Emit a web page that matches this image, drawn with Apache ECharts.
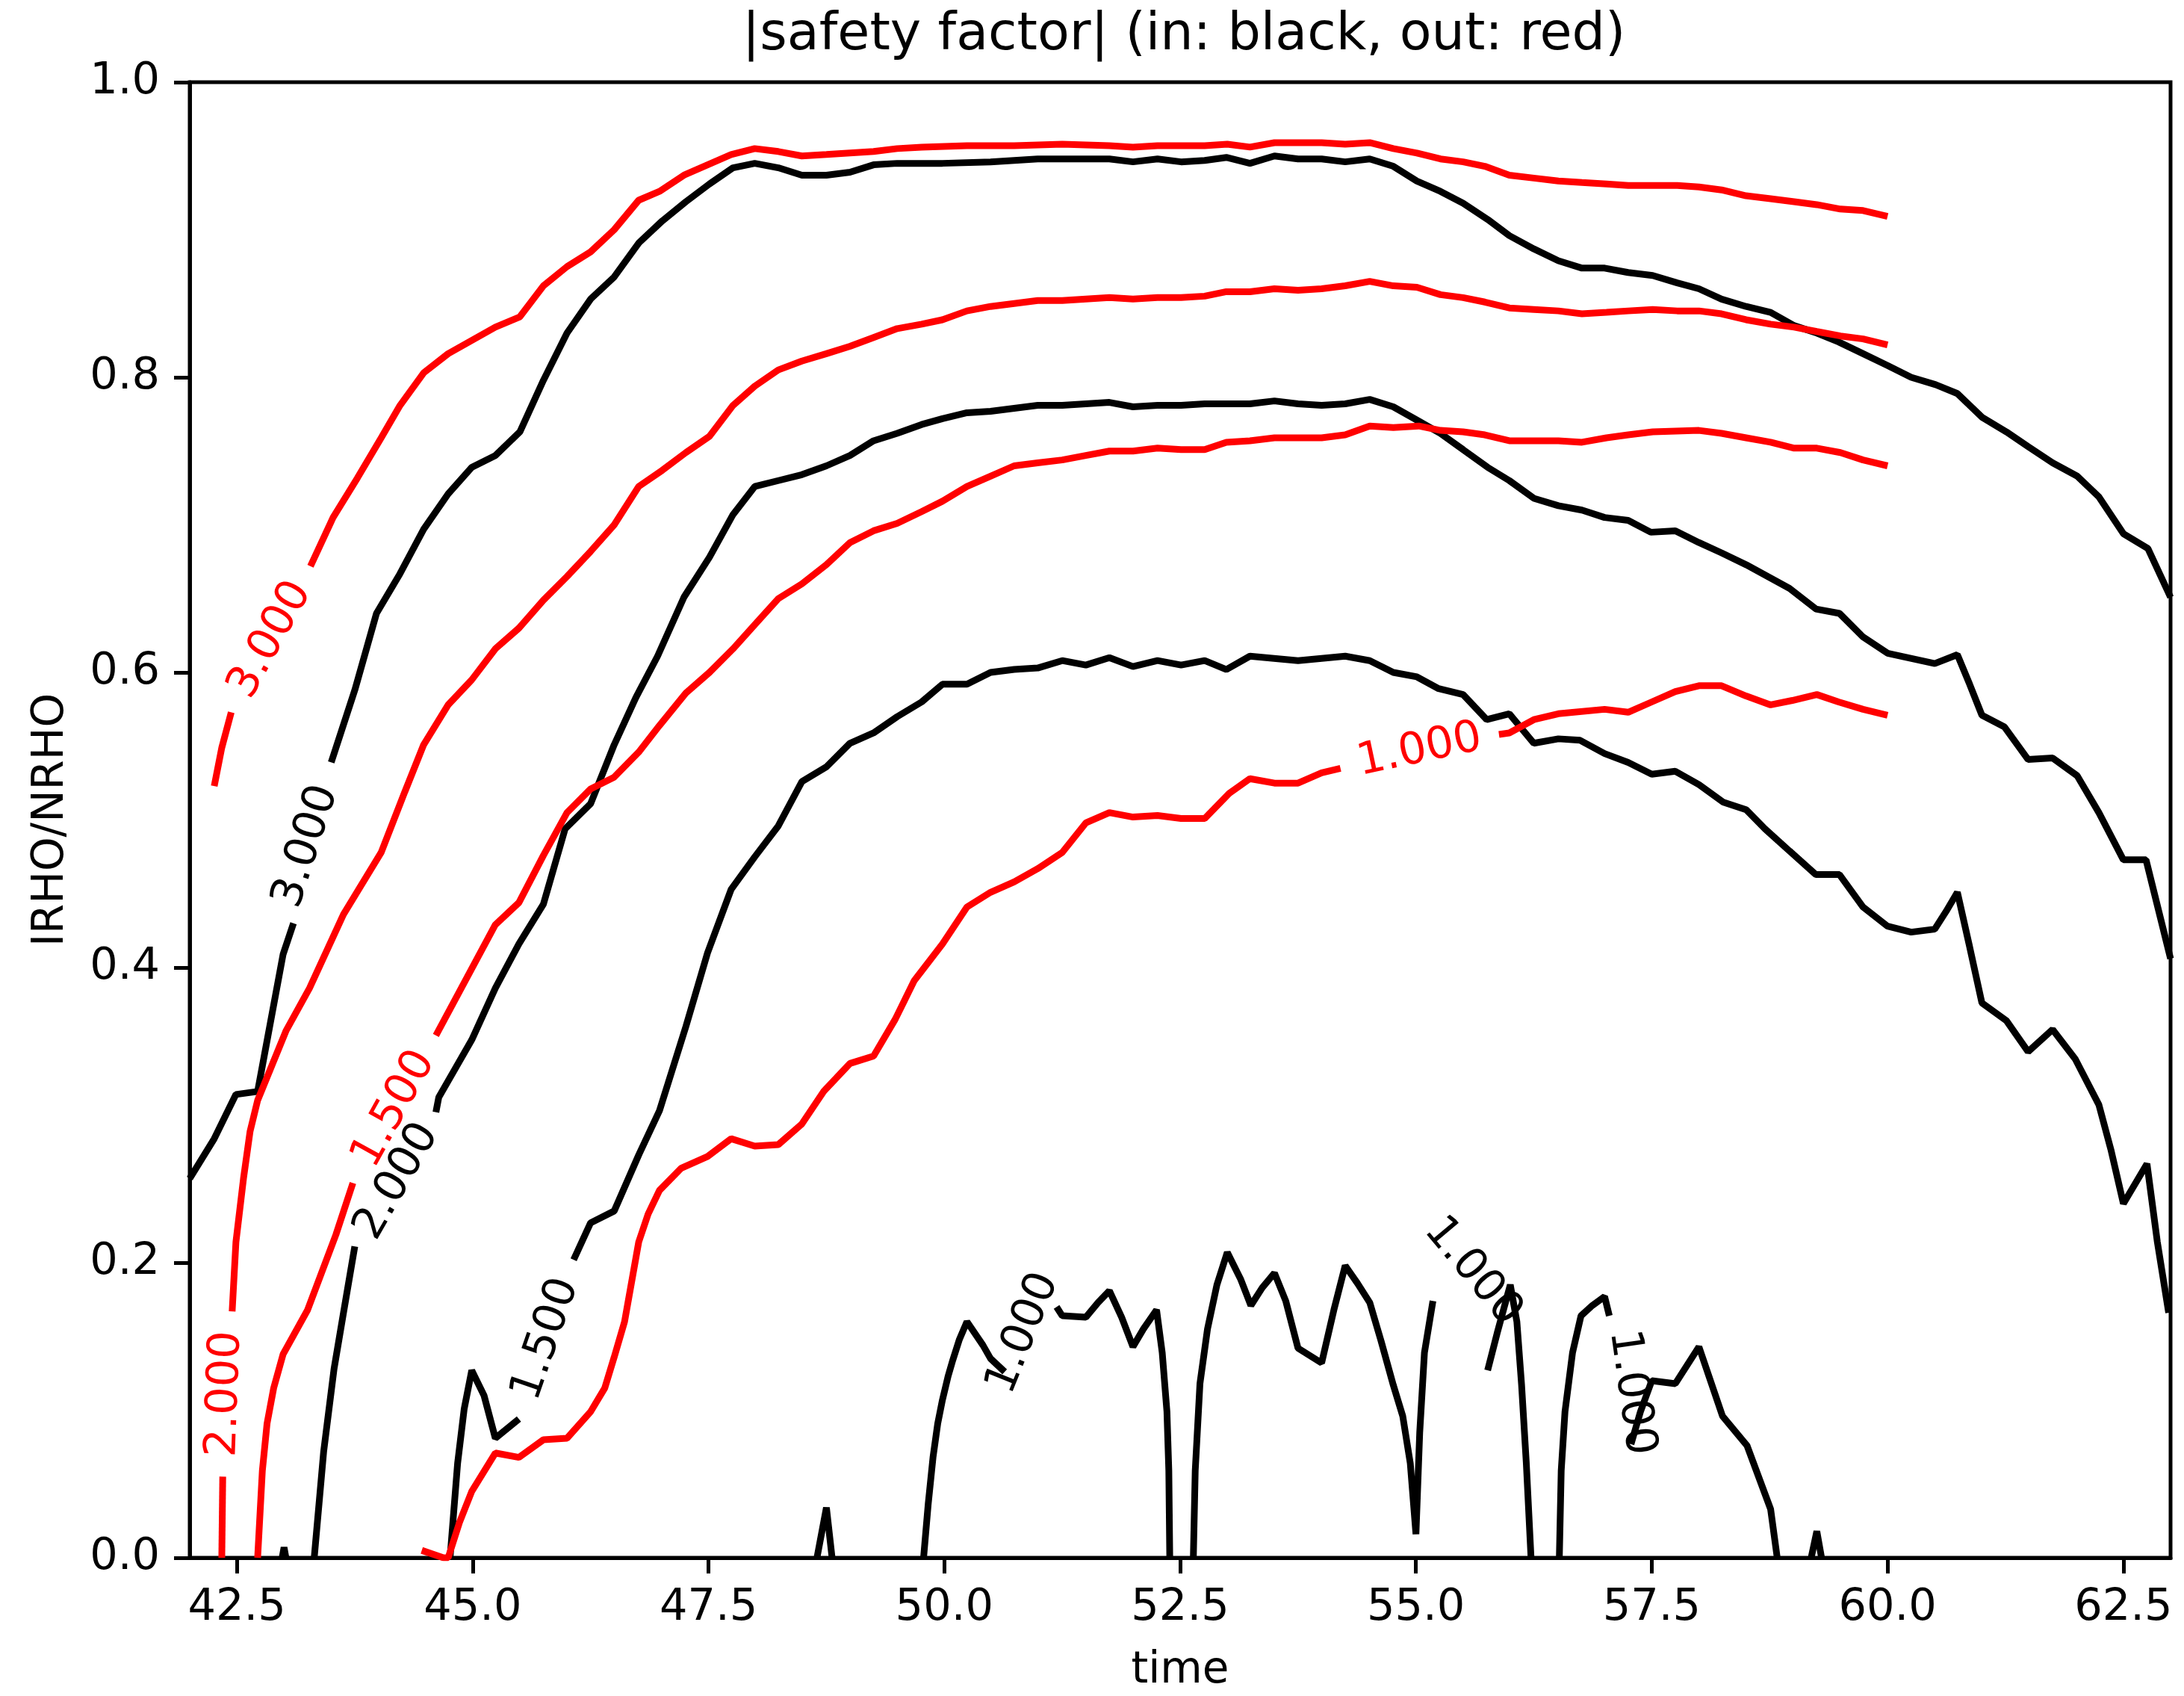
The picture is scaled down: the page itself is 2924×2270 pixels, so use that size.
<!DOCTYPE html>
<html>
<head>
<meta charset="utf-8">
<script src="https://cdn.jsdelivr.net/npm/echarts@6/dist/echarts.min.js"></script>
<style>html,body{margin:0;padding:0;background:#fff}#c{width:2924px;height:2270px}</style>
</head>
<body>
<div id="c"></div>
<script>
// ---- axis ticks ----
const xTicks = [42.5, 45, 47.5, 50, 52.5, 55, 57.5, 60, 62.5];
const yTicks = [0, 0.2, 0.4, 0.6, 0.8, 1.0];

// ---- inner (black) contours: each is a list of segments of [time, IRHO/NRHO] ----
const in3 = [
  [[42.0,0.257],[42.26,0.284],[42.49,0.314],[42.72,0.316],[42.99,0.409],[43.1,0.430]],
  [[43.5,0.539],[43.75,0.588],[43.98,0.640],[44.23,0.667],[44.48,0.697],[44.74,0.721],[44.99,0.739],[45.24,0.747],[45.50,0.763],[45.75,0.798],[46.0,0.830],[46.25,0.853],[46.5,0.868],[46.76,0.891],[47.01,0.906],[47.26,0.919],[47.51,0.931],[47.76,0.942],[47.99,0.945],[48.24,0.942],[48.49,0.937],[48.75,0.937],[49.0,0.939],[49.25,0.944],[49.5,0.945],[49.98,0.945],[50.49,0.946],[50.99,0.948],[51.5,0.948],[51.75,0.948],[52.0,0.946],[52.26,0.948],[52.51,0.946],[52.76,0.947],[52.99,0.949],[53.24,0.945],[53.5,0.950],[53.75,0.948],[54.0,0.948],[54.25,0.946],[54.51,0.948],[54.76,0.943],[55.01,0.933],[55.26,0.926],[55.5,0.918],[55.76,0.907],[55.99,0.896],[56.25,0.887],[56.51,0.879],[56.76,0.874],[57.0,0.874],[57.25,0.871],[57.51,0.869],[57.77,0.864],[58.0,0.860],[58.24,0.853],[58.5,0.848],[58.76,0.844],[59.01,0.835],[59.25,0.830],[59.48,0.824],[59.74,0.816],[60.0,0.808],[60.25,0.800],[60.51,0.795],[60.74,0.789],[61.0,0.773],[61.26,0.763],[61.49,0.753],[61.75,0.742],[62.01,0.733],[62.24,0.719],[62.5,0.694],[62.76,0.684],[63.0,0.651]]
];
const in2 = [
  [[43.32,0.0],[43.42,0.072],[43.53,0.128],[43.63,0.166],[43.75,0.211]],
  [[44.61,0.302],[44.64,0.312],[44.99,0.351],[45.24,0.386],[45.49,0.416],[45.75,0.443],[45.98,0.494],[46.25,0.511],[46.5,0.551],[46.73,0.583],[46.96,0.611],[47.24,0.651],[47.51,0.678],[47.76,0.707],[47.99,0.726],[48.24,0.730],[48.49,0.734],[48.75,0.740],[49.0,0.747],[49.25,0.757],[49.5,0.762],[49.76,0.768],[49.98,0.772],[50.24,0.776],[50.49,0.777],[50.74,0.779],[50.99,0.781],[51.25,0.781],[51.5,0.782],[51.75,0.783],[52.0,0.780],[52.26,0.781],[52.51,0.781],[52.76,0.782],[53.24,0.782],[53.5,0.784],[53.75,0.782],[54.0,0.781],[54.25,0.782],[54.51,0.785],[54.76,0.780],[55.01,0.771],[55.26,0.762],[55.5,0.751],[55.76,0.739],[55.99,0.730],[56.25,0.718],[56.51,0.713],[56.76,0.710],[57.0,0.705],[57.25,0.703],[57.49,0.695],[57.75,0.696],[58.0,0.688],[58.24,0.681],[58.5,0.673],[58.96,0.657],[59.24,0.643],[59.49,0.640],[59.74,0.624],[60.0,0.613],[60.5,0.606],[60.74,0.612],[60.87,0.592],[61.0,0.571],[61.24,0.563],[61.49,0.541],[61.75,0.542],[62.01,0.530],[62.24,0.505],[62.5,0.473],[62.74,0.473],[63.0,0.406]]
];
const in15 = [
  [[44.76,0.0],[44.84,0.064],[44.91,0.101],[44.99,0.127],[45.12,0.11],[45.24,0.081],[45.49,0.094]],
  [[46.07,0.202],[46.25,0.227],[46.5,0.235],[46.76,0.273],[46.98,0.303],[47.26,0.36],[47.49,0.410],[47.74,0.453],[47.99,0.475],[48.24,0.496],[48.49,0.526],[48.75,0.536],[49.0,0.552],[49.25,0.559],[49.5,0.570],[49.76,0.580],[49.98,0.592],[50.24,0.592],[50.49,0.600],[50.74,0.602],[50.99,0.603],[51.25,0.608],[51.5,0.605],[51.75,0.610],[52.0,0.604],[52.26,0.608],[52.51,0.605],[52.76,0.608],[52.99,0.602],[53.24,0.611],[53.75,0.608],[54.25,0.611],[54.51,0.608],[54.76,0.600],[55.01,0.597],[55.24,0.589],[55.5,0.585],[55.75,0.568],[55.99,0.572],[56.25,0.552],[56.51,0.555],[56.74,0.554],[57.0,0.545],[57.25,0.539],[57.5,0.531],[57.75,0.533],[58.0,0.524],[58.26,0.512],[58.5,0.507],[58.7,0.494],[58.96,0.479],[59.24,0.463],[59.49,0.463],[59.74,0.441],[60.0,0.428],[60.25,0.424],[60.5,0.426],[60.62,0.438],[60.74,0.451],[60.87,0.414],[61.0,0.376],[61.26,0.364],[61.49,0.343],[61.75,0.358],[61.99,0.338],[62.24,0.307],[62.37,0.276],[62.5,0.240],[62.75,0.267],[62.86,0.214],[62.98,0.166]]
];
const in1 = [
  [[42.98,0.0],[43.0,0.007],[43.02,0.0]],
  [[48.65,0.0],[48.75,0.034],[48.81,0.0]],
  [[49.78,0.0],[49.83,0.037],[49.88,0.068],[49.93,0.091],[49.98,0.107],[50.04,0.123],[50.09,0.134],[50.16,0.148],[50.24,0.16],[50.41,0.144],[50.49,0.135],[50.64,0.126]],
  [[51.19,0.17],[51.25,0.164],[51.5,0.163],[51.63,0.173],[51.75,0.181],[51.88,0.163],[52.0,0.143],[52.11,0.155],[52.25,0.168],[52.31,0.139],[52.36,0.099],[52.38,0.059],[52.39,0.0]],
  [[52.64,0.0],[52.66,0.059],[52.71,0.118],[52.79,0.155],[52.89,0.185],[53.0,0.207],[53.14,0.189],[53.25,0.171],[53.37,0.183],[53.5,0.193],[53.62,0.174],[53.75,0.142],[54.0,0.132],[54.13,0.168],[54.25,0.198],[54.38,0.186],[54.51,0.173],[54.63,0.147],[54.76,0.117],[54.86,0.096],[54.94,0.064],[55.0,0.016],[55.04,0.085],[55.09,0.139],[55.18,0.174]],
  [[55.76,0.127],[55.86,0.152],[56.0,0.185],[56.07,0.16],[56.12,0.117],[56.17,0.064],[56.22,0.0]],
  [[56.52,0.0],[56.54,0.059],[56.58,0.099],[56.66,0.139],[56.75,0.164],[56.87,0.171],[57.0,0.177],[57.05,0.164]],
  [[57.28,0.077],[57.38,0.099],[57.5,0.12],[57.75,0.118],[58.0,0.143],[58.25,0.096],[58.51,0.076],[58.76,0.033],[58.83,0.0]],
  [[59.19,0.0],[59.25,0.018],[59.3,0.0]]
];

// ---- outer (red) contours ----
const out3 = [
  [[42.26,0.523],[42.34,0.549],[42.44,0.573]],
  [[43.28,0.672],[43.52,0.705],[43.78,0.732],[44.03,0.759],[44.23,0.781],[44.48,0.803],[44.74,0.816],[44.99,0.825],[45.24,0.834],[45.50,0.841],[45.75,0.862],[46.0,0.875],[46.25,0.885],[46.5,0.9],[46.76,0.92],[46.98,0.926],[47.24,0.937],[47.49,0.944],[47.74,0.951],[47.99,0.955],[48.24,0.953],[48.49,0.950],[48.75,0.951],[49.0,0.952],[49.25,0.953],[49.5,0.955],[49.76,0.956],[50.24,0.957],[50.74,0.957],[51.25,0.958],[51.75,0.957],[52.0,0.956],[52.26,0.957],[52.76,0.957],[53.0,0.958],[53.24,0.956],[53.5,0.959],[54.0,0.959],[54.25,0.958],[54.51,0.959],[54.76,0.955],[55.01,0.952],[55.26,0.948],[55.5,0.946],[55.73,0.943],[55.99,0.937],[56.25,0.935],[56.51,0.933],[56.76,0.932],[57.02,0.931],[57.25,0.930],[57.77,0.930],[58.0,0.929],[58.24,0.927],[58.5,0.923],[58.76,0.921],[59.01,0.919],[59.25,0.917],[59.5,0.914],[59.74,0.913],[60.0,0.909]]
];
const out2 = [
  [[42.34,0.0],[42.35,0.055]],
  [[42.45,0.167],[42.49,0.214],[42.57,0.257],[42.64,0.289],[42.72,0.31],[43.02,0.357],[43.27,0.386],[43.63,0.436],[44.03,0.478],[44.28,0.519],[44.48,0.551],[44.74,0.578],[44.99,0.595],[45.24,0.616],[45.49,0.630],[45.75,0.649],[46.0,0.665],[46.25,0.682],[46.5,0.70],[46.76,0.726],[47.01,0.737],[47.26,0.749],[47.51,0.760],[47.76,0.781],[47.99,0.794],[48.24,0.805],[48.49,0.811],[48.75,0.816],[49.0,0.821],[49.25,0.827],[49.5,0.833],[49.76,0.836],[49.98,0.839],[50.24,0.845],[50.49,0.848],[50.99,0.852],[51.25,0.852],[51.75,0.854],[52.0,0.853],[52.26,0.854],[52.51,0.854],[52.76,0.855],[52.99,0.858],[53.24,0.858],[53.5,0.860],[53.75,0.859],[54.0,0.860],[54.25,0.862],[54.51,0.865],[54.76,0.862],[55.01,0.861],[55.26,0.856],[55.5,0.854],[55.73,0.851],[55.99,0.847],[56.25,0.846],[56.51,0.845],[56.76,0.843],[57.02,0.844],[57.25,0.845],[57.51,0.846],[57.77,0.845],[58.0,0.845],[58.24,0.843],[58.5,0.839],[58.76,0.836],[59.01,0.834],[59.25,0.831],[59.5,0.828],[59.74,0.826],[60.0,0.822]]
];
const out15 = [
  [[42.72,0.0],[42.77,0.059],[42.82,0.091],[42.89,0.115],[42.99,0.138],[43.25,0.168],[43.55,0.219],[43.73,0.254]],
  [[44.61,0.354],[45.24,0.429],[45.49,0.444],[45.75,0.476],[46.0,0.505],[46.25,0.521],[46.5,0.529],[46.76,0.546],[46.98,0.564],[47.26,0.586],[47.51,0.600],[47.76,0.616],[48.0,0.633],[48.24,0.650],[48.49,0.660],[48.75,0.673],[49.0,0.688],[49.25,0.696],[49.5,0.701],[49.76,0.709],[49.98,0.716],[50.24,0.726],[50.49,0.733],[50.74,0.740],[50.99,0.742],[51.25,0.744],[51.5,0.747],[51.75,0.750],[52.0,0.750],[52.26,0.752],[52.51,0.751],[52.76,0.751],[52.99,0.756],[53.24,0.757],[53.5,0.759],[54.0,0.759],[54.25,0.761],[54.51,0.767],[54.76,0.766],[55.03,0.767],[55.26,0.764],[55.5,0.763],[55.73,0.761],[55.99,0.757],[56.25,0.757],[56.51,0.757],[56.76,0.756],[57.02,0.759],[57.25,0.761],[57.51,0.763],[58.0,0.764],[58.24,0.762],[58.5,0.759],[58.76,0.756],[59.01,0.752],[59.25,0.752],[59.5,0.749],[59.74,0.744],[60.0,0.740]]
];
const out1 = [
  [[44.46,0.005],[44.69,0.0],[44.74,0.0],[44.86,0.024],[44.99,0.045],[45.24,0.071],[45.49,0.068],[45.75,0.080],[46.0,0.081],[46.25,0.099],[46.4,0.115],[46.5,0.136],[46.61,0.16],[46.76,0.214],[46.86,0.233],[46.98,0.249],[47.21,0.264],[47.49,0.272],[47.74,0.284],[47.99,0.279],[48.24,0.280],[48.49,0.294],[48.72,0.316],[49.0,0.335],[49.25,0.340],[49.48,0.365],[49.58,0.378],[49.68,0.391],[49.98,0.416],[50.24,0.441],[50.49,0.451],[50.74,0.458],[50.99,0.467],[51.25,0.478],[51.5,0.498],[51.75,0.505],[52.0,0.502],[52.26,0.503],[52.51,0.501],[52.76,0.501],[53.02,0.518],[53.24,0.528],[53.5,0.525],[53.75,0.525],[54.0,0.532],[54.2,0.535]],
  [[55.88,0.558],[55.99,0.559],[56.25,0.568],[56.51,0.572],[57.0,0.575],[57.25,0.573],[57.5,0.580],[57.75,0.587],[58.0,0.591],[58.24,0.591],[58.5,0.584],[58.76,0.578],[58.99,0.581],[59.25,0.585],[59.48,0.580],[59.74,0.575],[60.0,0.571]]
];

// ---- inline contour labels: [time, value, text, rotation(deg)] ----
const inLabels = [
  [43.24, 0.482, '3.000', 72],
  [44.20, 0.255, '2.000', 60],
  [45.78, 0.148, '1.500', 71],
  [50.84, 0.152, '1.000', 68],
  [55.60, 0.194, '1.000', -50],
  [57.28, 0.112, '1.000', -82]
];
const outLabels = [
  [42.86, 0.622, '3.000', 61],
  [42.38, 0.111, '2.000', 88],
  [44.17, 0.304, '1.500', 61],
  [55.04, 0.547, '1.000', 12]
];

const BLACK = '#000000', RED = '#ff0000';
const FONT = 'DejaVu Sans';
const series = [];
function addContour(segs, color) {
  segs.forEach(seg => series.push({
    type: 'line', data: seg, symbol: 'none', showSymbol: false, clip: true,
    lineStyle: { color: color, width: 9 }, silent: true, animation: false, z: 2
  }));
}
[in3, in2, in15, in1].forEach(c => addContour(c, BLACK));
[out3, out2, out15, out1].forEach(c => addContour(c, RED));

function labelSeries(list, color) {
  return {
    type: 'scatter', symbol: 'circle', symbolSize: 2,
    itemStyle: { color: 'rgba(0,0,0,0)' }, silent: true, animation: false, z: 5,
    clip: false,
    data: list.map(l => ({
      value: [l[0], l[1]],
      label: { show: true, position: 'inside', formatter: l[2], rotate: l[3],
        color: color, fontSize: 59, fontFamily: FONT,
        textBorderWidth: 0, textBorderColor: 'transparent', opacity: 1 }
    }))
  };
}
series.push(labelSeries(inLabels, BLACK));
series.push(labelSeries(outLabels, RED));

const chart = echarts.init(document.getElementById('c'), null, { renderer: 'canvas' });
chart.setOption({
  backgroundColor: '#ffffff',
  animation: false,
  title: {
    text: '|safety factor| (in: black, out: red)',
    left: 1580, top: 8, textAlign: 'center',
    textStyle: { fontSize: 70, fontWeight: 'normal', color: '#000', fontFamily: FONT }
  },
  graphic: [{
    type: 'text', x: 1580, y: 2237, silent: true,
    style: { text: 'time', fill: '#000', fontSize: 58, fontFamily: FONT, textAlign: 'center', textVerticalAlign: 'middle' }
  }],
  grid: { left: 254, right: 18, top: 110, bottom: 185, show: true, borderColor: '#000', borderWidth: 5, backgroundColor: 'transparent' },
  xAxis: {
    type: 'value', min: 42, max: 63,
    axisLine: { show: true, lineStyle: { color: '#000', width: 5 } },
    axisTick: { show: true, customValues: xTicks, length: 21, lineStyle: { color: '#000', width: 5 } },
    axisLabel: { customValues: xTicks, formatter: v => Number(v).toFixed(1), fontSize: 59, color: '#000', fontFamily: FONT, margin: 38 },
    splitLine: { show: false }
  },
  yAxis: {
    type: 'value', min: 0, max: 1, interval: 0.2,
    name: 'IRHO/NRHO', nameLocation: 'middle', nameGap: 156,
    nameTextStyle: { fontSize: 58, color: '#000', fontFamily: FONT },
    axisLine: { show: true, lineStyle: { color: '#000', width: 5 } },
    axisTick: { show: true, customValues: yTicks, length: 21, lineStyle: { color: '#000', width: 5 } },
    axisLabel: { customValues: yTicks, formatter: v => Number(v).toFixed(1), fontSize: 59, color: '#000', fontFamily: FONT, margin: 40 },
    splitLine: { show: false }
  },
  series: series
});
</script>
</body>
</html>
